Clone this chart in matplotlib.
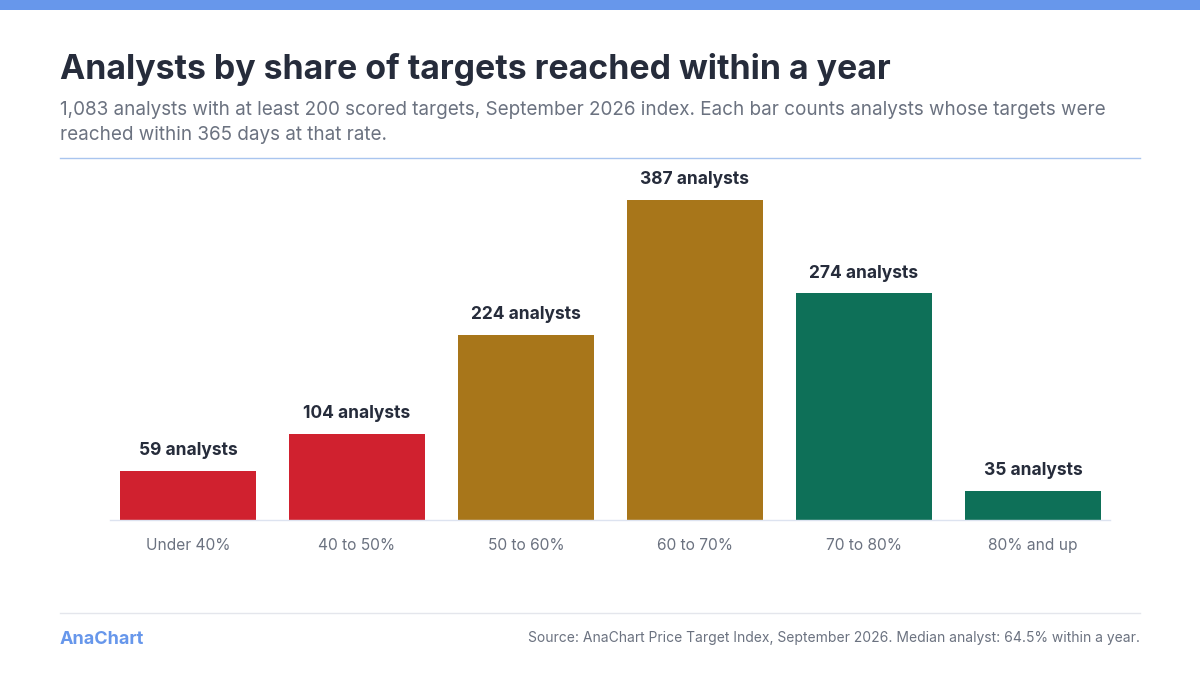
import matplotlib
matplotlib.use("Agg")
import matplotlib.pyplot as plt
from matplotlib.patches import Rectangle
from matplotlib.lines import Line2D

plt.rcParams['font.family'] = ['Inter', 'DejaVu Sans']

# data
categories = ["Under 40%", "40 to 50%", "50 to 60%", "60 to 70%", "70 to 80%", "80% and up"]
counts = [59, 104, 224, 387, 274, 35]
bar_colors = ["#D0212F", "#D0212F", "#A8761A", "#A8761A", "#0E7058", "#0E7058"]

title = "Analysts by share of targets reached within a year"
subtitle = ("1,083 analysts with at least 200 scored targets, September 2026 index. Each bar counts analysts whose targets were\n"
            "reached within 365 days at that rate.")
source = "Source: AnaChart Price Target Index, September 2026. Median analyst: 64.5% within a year."
brand = "AnaChart"

W, H = 1200, 675
fig = plt.figure(figsize=(12, 6.75), dpi=100)
fig.patch.set_facecolor("white")

def fx(px):
    return px / W

def fy(py):
    return 1 - py / H

# top accent band
fig.add_artist(Rectangle((0, fy(10)), 1, 10 / H, transform=fig.transFigure,
                         facecolor="#6797EB", edgecolor="none"))

fig.text(fx(60), fy(70), title, fontsize=24.4, fontweight="bold", color="#262C3B",
         ha="left", va="center")
fig.text(fx(60), fy(101), subtitle, fontsize=13.6, color="#6B7280", ha="left", va="top",
         linespacing=1.5)

fig.add_artist(Line2D([fx(60), fx(1140)], [fy(158), fy(158)], transform=fig.transFigure,
                      color="#A9C5EF", linewidth=1))

# plot area
ax_top, ax_bot = 170, 520
ax = fig.add_axes([fx(110), fy(ax_bot), fx(1000), (ax_bot - ax_top) / H])
x = list(range(len(categories)))
ax.bar(x, counts, width=0.805, color=bar_colors, zorder=2)
ax.set_xlim(-0.4615, 5.456)
ax.set_ylim(0, (ax_bot - ax_top) / 0.8269)
for i, v in zip(x, counts):
    ax.annotate(f"{v} analysts", (i, v), xytext=(0, 8.5), textcoords="offset points",
                ha="center", va="bottom", fontsize=12.5, fontweight="bold", color="#262C3B")

ax.set_xticks(x)
ax.set_xticklabels(categories, fontsize=11.2, color="#6B7280")
ax.tick_params(axis="x", length=0, pad=13)
ax.set_yticks([])
for s in ["top", "right", "left"]:
    ax.spines[s].set_visible(False)
ax.spines["bottom"].set_color("#DDE3F0")
ax.spines["bottom"].set_linewidth(1)
ax.set_facecolor("none")

# footer
fig.add_artist(Line2D([fx(60), fx(1140)], [fy(613), fy(613)], transform=fig.transFigure,
                      color="#E4E6EC", linewidth=1))
fig.text(fx(60), fy(639), brand, fontsize=13, fontweight="bold", color="#6797EB",
         ha="left", va="center")
fig.text(fx(1140), fy(638), source, fontsize=10, color="#6B7280", ha="right", va="center")

fig.savefig("out.png", dpi=100, facecolor="white")
